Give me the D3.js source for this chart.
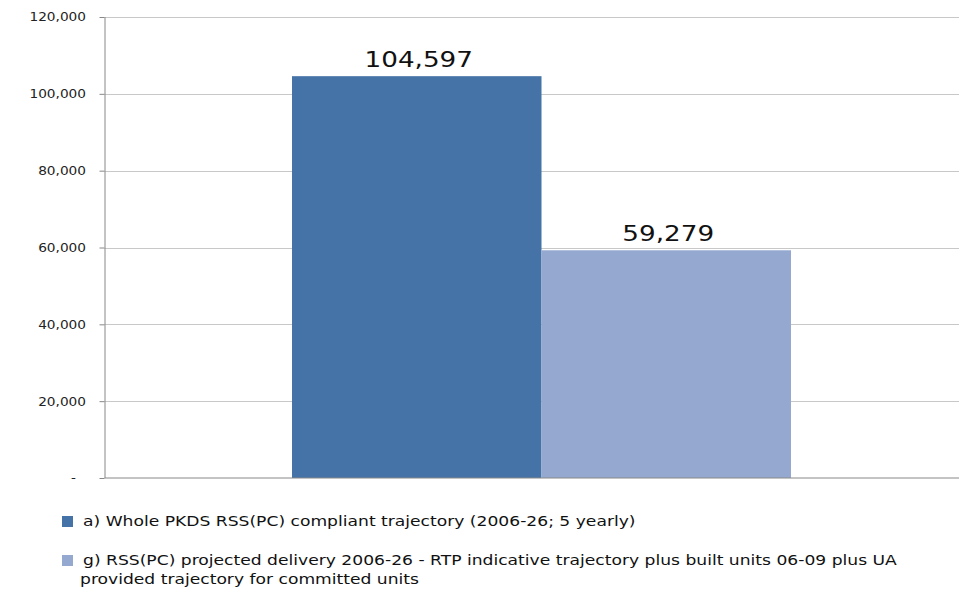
<!DOCTYPE html>
<html>
<head>
<meta charset="utf-8">
<script src="https://cdn.jsdelivr.net/npm/d3@7"></script>
<style>
  body { margin: 0; background: #fff; }
  svg { display: block; font-family: "DejaVu Sans", Verdana, sans-serif; }
</style>
</head>
<body>
<div id="chart"></div>
<script>
// Series shown as side-by-side bars
const seriesKeys = ['a', 'g'];
const seriesValues = [104597, 59279];
const seriesLabels = [
  ['a) Whole PKDS RSS(PC) compliant trajectory (2006-26; 5 yearly)'],
  ['g) RSS(PC) projected delivery 2006-26 - RTP indicative trajectory plus built units 06-09 plus UA',
   'provided trajectory for committed units']
];
const seriesColors = ['#4573a7', '#95a9d0'];
const yTicks = [0, 20000, 40000, 60000, 80000, 100000, 120000];

const width = 959, height = 589;
const margin = { top: 17, left: 104.5, right: 0, bottom: 111 };

const svg = d3.select('#chart').append('svg')
  .attr('width', width)
  .attr('height', height);

const y = d3.scaleLinear()
  .domain([0, 120000])
  .range([height - margin.bottom, margin.top]);

// group occupies middle of plot; bars touch each other
const x = d3.scaleBand()
  .domain(seriesKeys)
  .range([292, 791])
  .padding(0);

// gridlines
svg.append('g')
  .selectAll('line')
  .data(yTicks.filter(d => d > 0))
  .enter().append('line')
  .attr('x1', margin.left).attr('x2', width)
  .attr('y1', d => Math.round(y(d)) + 0.5)
  .attr('y2', d => Math.round(y(d)) + 0.5)
  .attr('stroke', '#c8c8c8');

// bars
svg.append('g')
  .selectAll('rect')
  .data(seriesValues)
  .enter().append('rect')
  .attr('x', (d, i) => x(seriesKeys[i]))
  .attr('y', d => y(d))
  .attr('width', x.bandwidth())
  .attr('height', d => y(0) - y(d))
  .attr('fill', (d, i) => seriesColors[i]);

// value labels (original fonts look horizontally stretched)
svg.append('g')
  .selectAll('text')
  .data(seriesValues)
  .enter().append('text')
  .attr('transform', (d, i) => `translate(${x(seriesKeys[i]) + x.bandwidth() / 2 + 2},${y(d) - 9}) scale(1.28,1)`)
  .attr('text-anchor', 'middle')
  .attr('font-size', 20.5)
  .attr('fill', '#111')
  .text(d => d3.format(',')(d));

// y axis
const yAxis = d3.axisLeft(y)
  .tickValues(yTicks)
  .tickSize(5)
  .tickPadding(14)
  .tickFormat(d => d === 0 ? '-' : d3.format(',')(d));

const gy = svg.append('g')
  .attr('transform', `translate(${margin.left},0)`)
  .call(yAxis);
gy.select('.domain').attr('stroke', '#888').attr('d', `M0.5,${margin.top}V${y(0)}`);
gy.selectAll('.tick line').attr('stroke', '#888');
gy.selectAll('.tick text')
  .attr('x', 0)
  .attr('transform', d => d === 0 ? 'translate(-28.5,0) scale(1.14,1)' : 'translate(-18.5,0) scale(1.14,1)')
  .attr('font-size', 12)
  .attr('fill', '#222')
  .attr('font-family', '"DejaVu Sans", Verdana, sans-serif');

// baseline
svg.append('line')
  .attr('x1', margin.left).attr('x2', width)
  .attr('y1', y(0)).attr('y2', y(0))
  .attr('stroke', '#888');

// legend
const legend = svg.append('g').attr('font-size', 14).attr('fill', '#111');
const legendY = [526, 565];
seriesLabels.forEach((lines, i) => {
  legend.append('rect')
    .attr('x', 62).attr('y', legendY[i] - 10)
    .attr('width', 11).attr('height', 11)
    .attr('fill', seriesColors[i]);
  lines.forEach((ln, j) => {
    legend.append('text')
      .attr('transform', `translate(${j === 0 ? 83 : 80},${legendY[i] + j * 19}) scale(1.225,1)`)
      .text(ln);
  });
});
</script>
</body>
</html>
